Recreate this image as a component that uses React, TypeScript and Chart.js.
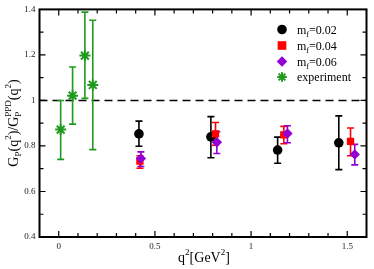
import React, { useEffect, useRef } from "react";
import { Chart, registerables } from "chart.js";
Chart.register(...registerables);

const expQ2 = [0.01, 0.072, 0.136, 0.177];
const expVal = [0.872, 1.021, 1.197, 1.068];
const expLo = [0.741, 0.896, 1.009, 0.784];
const expHi = [1.0, 1.147, 1.388, 1.352];

const m02Q2 = [0.417, 0.791, 1.138, 1.456];
const m02Val = [0.853, 0.84, 0.782, 0.814];
const m02Lo = [0.799, 0.748, 0.724, 0.696];
const m02Hi = [0.909, 0.929, 0.839, 0.932];

const m04Q2 = [0.422, 0.815, 1.17, 1.517];
const m04Val = [0.734, 0.853, 0.849, 0.82];
const m04Lo = [0.702, 0.803, 0.81, 0.757];
const m04Hi = [0.757, 0.903, 0.886, 0.879];

const m06Q2 = [0.427, 0.822, 1.189, 1.539];
const m06Val = [0.745, 0.816, 0.855, 0.763];
const m06Lo = [0.71, 0.767, 0.814, 0.717];
const m06Hi = [0.774, 0.863, 0.889, 0.807];

const xTicks = [0, 0.5, 1, 1.5];
const yTicks = [0.4, 0.6, 0.8, 1.0, 1.2, 1.4];
const legendValues = ["=0.02", "=0.04", "=0.06"];
const legendExp = "experiment";

const BLACK = "#000000";
const RED = "#ff0000";
const PURPLE = "#9400d3";
const GREEN = "#1f9a1f";
const SERIF = "'Liberation Serif', 'DejaVu Serif', serif";

type Ser = { x: number[]; v: number[]; lo: number[]; hi: number[]; color: string };
const series: Ser[] = [
  { x: expQ2, v: expVal, lo: expLo, hi: expHi, color: GREEN },
  { x: m02Q2, v: m02Val, lo: m02Lo, hi: m02Hi, color: BLACK },
  { x: m04Q2, v: m04Val, lo: m04Lo, hi: m04Hi, color: RED },
  { x: m06Q2, v: m06Val, lo: m06Lo, hi: m06Hi, color: PURPLE },
];

function drawMarker(ctx: CanvasRenderingContext2D, style: string, x: number, y: number, r: number, color: string) {
  ctx.save();
  ctx.fillStyle = color;
  ctx.strokeStyle = color;
  ctx.beginPath();
  if (style === "circle") {
    ctx.arc(x, y, r, 0, Math.PI * 2);
    ctx.fill();
  } else if (style === "rect") {
    ctx.fillRect(x - r * 0.9, y - r * 0.9, r * 1.8, r * 1.8);
  } else if (style === "rectRot") {
    ctx.moveTo(x, y - r * 1.1);
    ctx.lineTo(x + r * 1.1, y);
    ctx.lineTo(x, y + r * 1.1);
    ctx.lineTo(x - r * 1.1, y);
    ctx.closePath();
    ctx.fill();
  } else {
    ctx.lineWidth = 2;
    for (let i = 0; i < 4; i++) {
      const a = (i * Math.PI) / 4;
      ctx.moveTo(x - r * Math.cos(a), y - r * Math.sin(a));
      ctx.lineTo(x + r * Math.cos(a), y + r * Math.sin(a));
    }
    ctx.stroke();
  }
  ctx.restore();
}

function drawRich(ctx: CanvasRenderingContext2D, parts: [string, number, number][], x: number, y: number) {
  let cx = x;
  for (const [t, s, off] of parts) {
    ctx.font = `${s}px ${SERIF}`;
    ctx.fillText(t, cx, y + off);
    cx += ctx.measureText(t).width;
  }
  return cx;
}

function richWidth(ctx: CanvasRenderingContext2D, parts: [string, number, number][]) {
  let w = 0;
  for (const [t, s] of parts) {
    ctx.font = `${s}px ${SERIF}`;
    w += ctx.measureText(t).width;
  }
  return w;
}

const decorPlugin = {
  id: "decor",
  beforeDatasetsDraw(chart: any) {
    const { ctx, chartArea: a, scales } = chart;
    const xs = scales.x;
    const ys = scales.y;
    ctx.save();
    ctx.strokeStyle = "#000";
    ctx.lineWidth = 1.5;
    ctx.setLineDash([8, 5]);
    ctx.beginPath();
    const y1 = ys.getPixelForValue(1);
    ctx.moveTo(a.left, y1);
    ctx.lineTo(a.right, y1);
    ctx.stroke();
    ctx.setLineDash([]);
    for (const s of series) {
      ctx.strokeStyle = s.color;
      ctx.lineWidth = 1.6;
      for (let i = 0; i < s.x.length; i++) {
        const px = xs.getPixelForValue(s.x[i]);
        const pl = ys.getPixelForValue(s.lo[i]);
        const ph = ys.getPixelForValue(s.hi[i]);
        ctx.beginPath();
        ctx.moveTo(px, pl);
        ctx.lineTo(px, ph);
        ctx.moveTo(px - 3.5, pl);
        ctx.lineTo(px + 3.5, pl);
        ctx.moveTo(px - 3.5, ph);
        ctx.lineTo(px + 3.5, ph);
        ctx.stroke();
      }
    }
    ctx.restore();
  },
  afterDraw(chart: any) {
    const { ctx, chartArea: a, scales } = chart;
    const xs = scales.x;
    const ys = scales.y;
    ctx.save();
    ctx.strokeStyle = "#000";
    ctx.lineWidth = 1.2;
    ctx.beginPath();
    for (let k = -1; k <= 16; k++) {
      const v = k / 10;
      const px = xs.getPixelForValue(v);
      if (px < a.left + 1 || px > a.right - 1) continue;
      const len = k % 5 === 0 ? 6 : 4;
      ctx.moveTo(px, a.bottom);
      ctx.lineTo(px, a.bottom - len);
      ctx.moveTo(px, a.top);
      ctx.lineTo(px, a.top + len);
    }
    for (let k = 4; k <= 14; k++) {
      const v = k / 10;
      const py = ys.getPixelForValue(v);
      if (py < a.top + 1 || py > a.bottom - 1) continue;
      const len = k % 2 === 0 ? 6 : 4;
      ctx.moveTo(a.left, py);
      ctx.lineTo(a.left + len, py);
      ctx.moveTo(a.right, py);
      ctx.lineTo(a.right - len, py);
    }
    ctx.stroke();
    ctx.lineWidth = 2;
    ctx.strokeRect(a.left, a.top, a.right - a.left, a.bottom - a.top);

    // x title
    ctx.fillStyle = "#000";
    ctx.textBaseline = "alphabetic";
    ctx.textAlign = "left";
    const xt: [string, number, number][] = [
      ["q", 14, 0],
      ["2", 9, -7],
      ["[GeV", 14, 0],
      ["2", 9, -7],
      ["]", 14, 0],
    ];
    const xw = richWidth(ctx, xt);
    drawRich(ctx, xt, (a.left + a.right) / 2 - xw / 2 + 1, 262);

    // y title
    const yt: [string, number, number][] = [
      ["G", 14, 0],
      ["P", 9, 3],
      ["(q", 14, 0],
      ["2", 9, -7],
      [")/G", 14, 0],
      ["P", 9, 3],
      ["PPD", 9, -7],
      ["(q", 14, 0],
      ["2", 9, -7],
      [")", 14, 0],
    ];
    ctx.save();
    ctx.translate(17.5, 0);
    ctx.rotate(-Math.PI / 2);
    let total = richWidth(ctx, yt);
    ctx.font = `9px ${SERIF}`;
    total -= ctx.measureText("P").width;
    let cx = -(123 + total / 2);
    for (let i = 0; i < yt.length; i++) {
      const [t, s, off] = yt[i];
      ctx.font = `${s}px ${SERIF}`;
      ctx.fillText(t, cx, off);
      const w = ctx.measureText(t).width;
      if (i === 5) continue;
      cx += w;
    }
    ctx.restore();

    // legend
    const lx = 282;
    const tx = 297;
    const rows = [29.5, 45.5, 61.5, 77];
    const styles = ["circle", "rect", "rectRot", "star"];
    const colors = [BLACK, RED, PURPLE, GREEN];
    for (let i = 0; i < 4; i++) {
      drawMarker(ctx, styles[i], lx, rows[i], 4.8, colors[i]);
      ctx.fillStyle = "#000";
      if (i < 3) {
        drawRich(
          ctx,
          [
            ["m", 12, 0],
            ["f", 8, 3],
            [legendValues[i], 12, 0],
          ],
          tx,
          rows[i] + 4
        );
      } else {
        ctx.font = `12px ${SERIF}`;
        ctx.fillText(legendExp, tx, rows[i] + 4);
      }
    }
    ctx.restore();
  },
};

export default function App() {
  const ref = useRef<HTMLCanvasElement | null>(null);
  useEffect(() => {
    if (!ref.current) return;
    const mk = (s: Ser) => s.x.map((x, i) => ({ x, y: s.v[i] }));
    const chart = new Chart(ref.current, {
      type: "scatter",
      data: {
        datasets: [
          {
            label: "m_f=0.06",
            data: mk(series[3]),
            pointStyle: "rectRot",
            pointRadius: 5.2,
            backgroundColor: PURPLE,
            borderColor: PURPLE,
            borderWidth: 0,
            order: 0,
          },
          {
            label: "m_f=0.04",
            data: mk(series[2]),
            pointStyle: "rect",
            pointRadius: 5.2,
            backgroundColor: RED,
            borderColor: RED,
            borderWidth: 0,
            order: 1,
          },
          {
            label: "m_f=0.02",
            data: mk(series[1]),
            pointStyle: "circle",
            pointRadius: 4.8,
            backgroundColor: BLACK,
            borderColor: BLACK,
            borderWidth: 0,
            order: 2,
          },
          {
            label: "experiment",
            data: mk(series[0]),
            pointStyle: "star",
            pointRadius: 5.5,
            backgroundColor: GREEN,
            borderColor: GREEN,
            borderWidth: 2,
            order: 3,
          },
        ],
      },
      options: {
        responsive: false,
        animation: false,
        devicePixelRatio: 1,
        layout: { padding: { top: 4, right: 3, left: 0, bottom: 0 } },
        plugins: { legend: { display: false }, tooltip: { enabled: false } },
        scales: {
          x: {
            type: "linear",
            min: -0.1,
            max: 1.6,
            border: { display: false },
            grid: { display: false, drawTicks: false },
            afterFit: (s: any) => {
              s.height = 32;
            },
            afterBuildTicks: (s: any) => {
              s.ticks = xTicks.map((v) => ({ value: v }));
            },
            ticks: {
              padding: 4,
              color: "#222",
              font: { family: SERIF, size: 9 },
              maxRotation: 0,
              callback: (v: any) => String(v),
            },
          },
          y: {
            type: "linear",
            min: 0.4,
            max: 1.4,
            border: { display: false },
            grid: { display: false, drawTicks: false },
            afterFit: (s: any) => {
              s.width = 39.5;
            },
            afterBuildTicks: (s: any) => {
              s.ticks = yTicks.map((v) => ({ value: v }));
            },
            ticks: {
              padding: 4,
              color: "#222",
              font: { family: SERIF, size: 9 },
              callback: (v: any) => String(Math.round(v * 10) / 10),
            },
          },
        },
      },
      plugins: [decorPlugin],
    });
    return () => chart.destroy();
  }, []);
  return (
    <div style={{ position: "fixed", left: 0, top: 0, width: 374, height: 269, background: "#fff" }}>
      <canvas ref={ref} width={374} height={269} />
    </div>
  );
}
